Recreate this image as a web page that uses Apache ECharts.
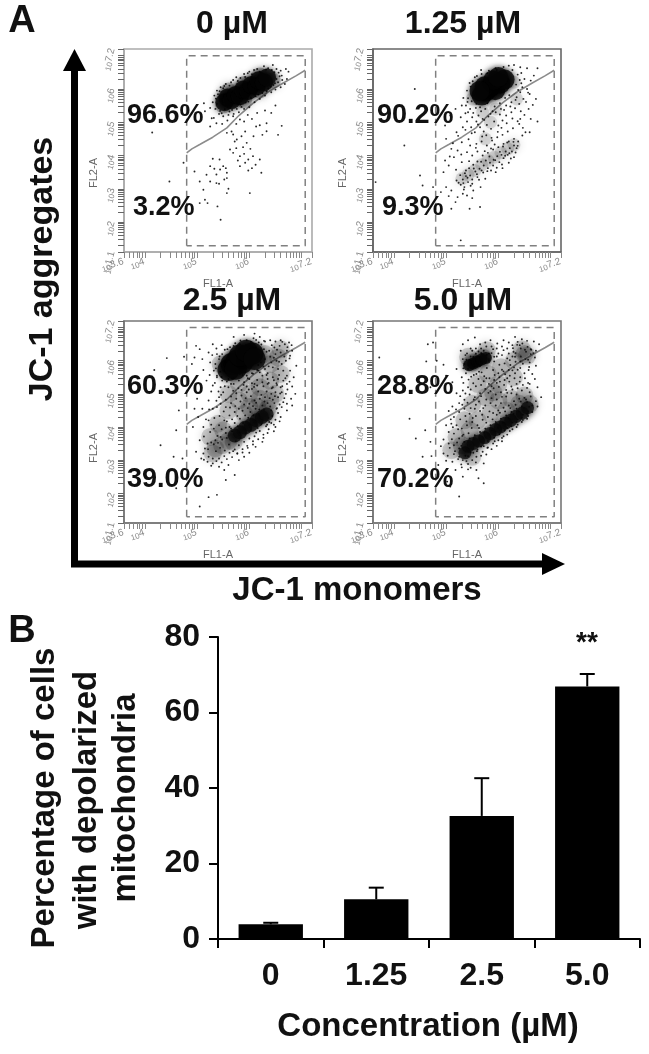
<!DOCTYPE html>
<html><head><meta charset="utf-8">
<style>html,body{margin:0;padding:0;background:#fff}#c{width:649px;height:1054px;filter:blur(.4px)}</style>
<script src="https://cdn.jsdelivr.net/npm/echarts@6/dist/echarts.min.js"></script>
</head><body><div id="c"></div>
<script>
// ---------- Panel B values ----------
const concentrations = ['0','1.25','2.5','5.0'];
const depolarized = [3.9,10.5,32.6,66.9];
const errorTops = [4.3,13.6,42.6,70.2];
// ---------- Panel A labels ----------
const panelTitles = ['0 µM','1.25 µM','2.5 µM','5.0 µM'];
const upperPercents = ['96.6%','90.2%','60.3%','28.8%'];
const lowerPercents = ['3.2%','9.3%','39.0%','70.2%'];
const xDecadeLabels = [3.6,4,5,6,7.2];
const yDecadeLabels = [1.1,2,3,4,5,6,7.2];
// gates, in log10(FL1), log10(FL2)
const gateBox = [4.8,1.29, 4.8,7.0, 7.07,7.0, 7.07,1.29, 4.8,1.29];
const gateDiagonal = [4.8,4.08, 4.9,4.2, 5.05,4.33, 5.3,4.55, 5.57,4.83, 5.8,5.2, 6.08,5.58, 6.35,5.9, 6.65,6.18, 6.9,6.4, 7.07,6.56];
// event clouds, flat x,y lists in log10 units
const dense0 = [5.52,5.6, 5.58,5.74, 5.66,5.66, 5.74,5.82, 5.82,5.78, 5.88,5.98, 5.98,5.94, 6.04,6.12, 6.14,6.08, 6.18,6.26, 6.28,6.2, 6.34,6.34];
const haze0 = [5.5,5.5, 5.6,5.95, 5.9,6.15, 6.2,6.4, 6.45,6.25, 6.2,5.95, 5.9,5.65];
const dots0 = [5.25,5.43,5.15,5.33,5.32,5.13,5.13,5.57,5.25,4.87,5.37,4.97,5.28,5.12,5.69,5.18,5.82,5.08,5.97,5.22,6.2,4.91,6.33,4.97,6.62,4.89,6.55,4.62,6.33,4.73,6.13,4.87,5.57,4.68,5.69,4.63,5.76,4.48,5.85,4.58,5.95,4.38,5.63,4.18,5.82,3.98,5.98,3.88,6.07,3.98,5.92,3.78,5.82,3.68,6.2,3.88,6.23,3.48,5.69,4.08,5.43,3.88,5.25,3.68,5.5,3.68,5.37,3.43,5.57,3.48,5.25,3.22,5.37,3.17,5.57,3.32,5.05,3.22,4.95,3.52,5.12,2.97,5.57,2.87,5.15,2.67,5.05,2.57,5.2,2.57,5.39,2.47,5.45,2.07,6.01,2.87,4.74,3.78,4.47,3.22,4.14,4.69,
5.72,4.42,5.88,4.25,6.02,4.2,5.78,3.85,5.9,4.05,6.05,3.62,5.98,3.55,6.12,3.72,5.75,4.22,5.66,4.72,5.92,4.72,6.08,4.58,6.25,4.62,5.44,3.58,5.52,3.28,5.33,3.6,5.42,3.15,5.6,3.0,5.55,3.62,5.3,3.9,5.18,3.42,5.48,4.95,5.58,5.05,5.75,4.95,5.9,5.02,6.05,5.1,6.15,5.28,6.3,5.35,6.42,5.28,6.5,5.5,
6.45,6.72,6.52,6.6,6.6,6.55,6.7,6.6,6.75,6.52,6.62,6.4,6.72,6.3,6.68,6.15,6.55,6.2,6.6,6.05,6.5,5.98,6.42,5.9,6.3,5.8,6.2,5.7,6.1,5.6,6,5.45,5.9,5.4,5.8,5.3,5.7,5.25,5.6,5.22,5.5,5.18,5.42,5.25,5.35,5.4,5.3,5.6,5.33,5.8,5.38,5.95,5.45,6.05,5.55,6.15,5.65,6.2,5.75,6.35,5.9,6.45,6.0,6.52,6.15,6.6,6.28,6.68,6.36,6.62,6.48,6.5,6.58,6.38,6.52,6.3,6.46,6.12,6.36,6.02,6.25,5.88,6.12,5.78,5.98,5.62,5.85,5.46,5.76,5.4,5.62,5.32,5.44,5.34,5.38,5.55,5.4,5.84,5.5,6.02,5.62,6.1,5.78,6.24,5.92,6.36,6.05,6.44,6.2,6.52,6.32,6.58,
5.47,5.27,5.53,5.39,5.67,5.37,5.83,5.53,5.93,5.59,6.03,5.73,6.17,5.83,6.33,5.93,6.41,6.07,6.49,6.17,5.36,5.71,5.43,5.93,5.52,6.09,5.69,6.27,5.83,6.33,5.97,6.47,6.09,6.57,6.23,6.47,6.43,6.57,6.56,6.49,6.63,6.27];
const dense1 = [5.68,5.8, 5.76,5.92, 5.84,6.04, 5.94,5.96, 6.04,6.16, 6.12,6.28, 5.74,6.08, 5.9,6.26, 5.64,5.94, 6.0,6.36];
const haze1 = [5.3,3.3, 5.42,3.42, 5.55,3.55, 5.68,3.72, 5.8,3.85, 5.92,3.95, 6.05,4.08, 6.18,4.2, 6.3,4.32, 5.75,4.5, 5.85,5.0, 5.7,5.3, 5.95,5.4, 6.3,6.2, 6.35,5.7, 5.5,5.7];
const dots1 = [4.4,6.0,4.2,4.3,4.5,3.4,3.65,3.2,4.55,3.1,5.1,2.4,5.45,2.4,5.65,2.45,4.75,3.05,5.28,1.45,5.18,2.6,5.05,2.78,4.9,2.9,5.0,3.05,5.1,2.95,5.22,2.75,5.32,2.85,5.4,2.8,5.5,2.72,5.52,2.95,5.35,3.05,4.95,3.5,4.98,3.85,5.05,3.7,5.15,3.95,5.1,4.2,5.0,4.5,4.98,4.9,5.08,5.2,5.18,5.4,5.3,5.5,5.28,5.15,5.32,4.85,5.4,5.02,5.2,4.7,5.3,4.4,5.22,4.15,5.3,3.8,5.4,4.1,5.38,3.55,5.2,3.25,5.24,3.18,5.28,3.12,5.32,3.28,5.38,3.38,5.42,3.2,5.46,3.4,5.5,3.28,5.56,3.52,5.6,3.35,5.64,3.6,5.44,3.62,5.52,3.72,5.6,3.82,5.68,3.55,5.72,3.7,5.76,3.85,5.8,3.62,5.84,3.78,5.9,3.7,5.94,3.86,5.98,3.98,6.02,3.8,6.06,4.02,6.1,3.92,6.14,4.12,6.18,4.02,6.22,4.22,6.26,4.12,6.3,4.3,6.35,4.22,6.38,4.42,6.3,4.5,6.2,4.42,6.1,4.35,6.0,4.25,5.9,4.18,5.8,4.08,5.7,4.0,5.6,4.12,5.5,4.0,5.46,4.3,5.58,4.35,5.68,4.42,5.78,4.3,5.88,4.45,5.98,4.55,6.08,4.62,6.18,4.72,6.28,4.82,6.4,4.95,6.52,4.7,6.6,4.7,6.46,4.6,6.42,5.1,6.5,5.22,6.62,5.1,6.75,5.02,6.58,5.4,6.66,5.52,6.72,5.7,6.6,5.85,6.55,6.0,6.62,6.25,6.68,6.4,6.75,6.62,6.55,6.62,6.42,6.65,6.3,6.72,6.2,6.7,6.1,6.66,5.95,6.62,5.82,6.55,5.68,6.45,5.55,6.35,5.45,6.18,5.4,5.95,5.42,5.72,5.38,5.5,5.46,5.4,5.52,5.28,5.62,5.2,5.7,5.1,5.58,5.02,5.48,4.85,5.55,4.7,5.65,4.85,5.72,4.72,5.78,4.92,5.86,4.8,5.92,5.02,6.0,4.9,6.08,5.05,6.15,5.2,6.25,5.3,6.32,5.42,6.4,5.55,6.48,5.7,6.42,5.9,6.35,5.75,6.25,5.6,6.15,5.5,6.05,5.4,5.95,5.3,5.85,5.25,5.75,5.4,5.65,5.45,5.58,5.55,5.5,5.15,5.42,5.3,6.46,6.05,6.5,6.3,6.44,6.48,5.75,3.3,5.86,3.55,5.66,3.05,5.5,3.15,5.34,2.98,5.95,3.5,6.08,3.62,6.2,3.78,6.3,3.95,
5.27,3.41,5.33,3.17,5.41,3.33,5.47,3.09,5.36,3.47,5.53,3.61,5.44,3.83,5.59,3.44,5.63,3.27,5.67,3.81,5.71,3.49,5.74,4.13,5.79,3.53,5.83,3.97,5.86,4.21,5.91,3.87,5.93,4.33,5.97,3.63,6.03,4.11,6.07,3.73,6.09,4.27,6.13,3.99,6.17,4.39,6.21,4.07,6.24,3.91,6.29,4.41,6.33,4.09,6.37,4.29,5.19,3.57,5.13,4.37,5.07,3.97,5.23,4.59,5.29,4.03,5.37,4.77,5.43,4.49,5.49,4.67,5.57,4.23,5.61,4.93,5.69,4.57,5.73,5.07,5.77,4.61,5.81,5.17,5.87,4.53,5.89,5.33,5.99,4.71,6.03,5.23,6.06,4.83,6.11,5.37,6.16,4.97,6.23,5.47,6.27,5.11,6.33,5.67,6.37,5.03,6.43,5.33,6.47,4.83,6.53,5.61,6.57,5.89,6.44,6.17,6.38,5.97,5.49,5.63,5.53,5.81,5.37,5.27,5.33,5.73,5.41,5.61,5.47,6.07,5.51,6.23,5.59,6.39,5.67,6.57,5.79,6.47,5.97,6.57,6.13,6.51,6.27,6.57,6.37,6.43,6.41,6.27,6.34,6.13,6.21,5.81,6.13,5.73,6.03,5.57,5.93,5.47,5.79,5.57,5.67,5.33,5.57,5.43];
const dense2 = [5.6,5.72, 5.66,5.9, 5.76,6.0, 5.86,5.94, 5.96,6.14, 6.06,6.22, 5.74,5.76, 5.82,6.16, 5.94,6.3, 6.1,6.05];
const dense2low = [5.72,3.74, 5.82,3.84, 5.92,3.98, 6.03,4.06, 6.14,4.2, 6.24,4.3, 6.33,4.38];
const haze2 = [5.4,4.1, 5.6,4.5, 5.8,4.8, 6.0,5.0, 6.2,5.2, 6.4,5.4, 5.9,4.4, 6.15,4.6, 6.4,4.8, 6.6,5.6, 6.4,5.9, 6.55,6.1, 6.3,6.2, 5.8,5.3, 5.6,5.0, 5.25,3.7, 5.5,3.9, 6.1,5.5, 5.35,3.35, 5.48,3.45, 5.6,3.58, 5.7,3.55, 6.0,4.6, 6.2,4.85, 5.45,5.9, 6.5,5.0, 6.6,6.35, 6.35,4.55, 5.3,3.2];
const dots2 = [4.18,5.72,4.42,6.08,4.75,6.12,4.3,3.45,4.65,4.5,4.6,3.9,4.55,3.1,4.72,3.05,4.6,2.15,5.22,1.88,5.38,1.95,5.55,2.4,5.05,1.6,4.82,5.4,4.9,5.9,4.95,6.1,4.98,6.45,5.05,6.35,5.1,6.05,5.12,5.72,5.22,6.25,5.3,6.5,5.38,6.2,5.25,5.95,5.18,5.4,5.08,5.2,5.0,4.85,4.95,4.55,5.1,4.55,5.22,4.8,5.3,5.25,5.38,5.5,5.45,5.2,5.42,4.9,5.3,4.55,5.22,4.2,5.12,4.0,5.02,4.3,4.92,4.0,5.05,3.6,5.15,3.35,4.98,3.25,5.08,3.05,5.2,2.95,5.3,2.9,5.42,2.8,5.52,2.7,5.6,2.85,5.72,2.55,5.8,3.0,5.9,3.1,6.0,3.22,6.12,3.4,6.25,3.55,6.35,3.82,6.5,4.0,6.6,4.3,6.72,4.5,6.62,4.6,6.8,4.85,6.7,5.0,6.82,5.22,6.72,5.3,6.6,5.2,6.5,5.05,6.42,5.0,6.3,4.9,6.2,4.85,6.1,4.8,6.0,4.7,5.9,4.68,5.8,4.55,5.72,4.45,5.62,4.35,5.52,4.2,5.42,4.05,5.32,3.95,5.25,3.85,5.35,3.6,5.45,3.7,5.55,3.82,5.62,4.0,5.72,4.12,5.82,4.25,5.92,4.35,6.02,4.45,6.12,4.55,6.25,4.65,6.35,4.72,6.45,4.82,6.55,4.9,6.65,4.75,6.52,4.55,6.42,4.5,6.4,4.62,6.28,4.52,6.18,4.4,6.08,4.35,5.98,4.28,5.88,4.12,5.78,4.02,5.65,3.95,5.55,3.98,5.48,3.62,5.4,3.52,5.32,3.48,5.2,3.5,5.22,3.1,5.12,3.2,5.3,3.05,5.42,3.05,5.52,3.12,5.62,3.22,5.72,3.32,5.8,3.45,5.9,3.55,6.0,3.65,6.1,3.72,6.2,3.88,6.32,4.02,6.42,4.12,6.5,4.22,6.55,4.42,6.38,4.15,5.55,4.6,5.65,4.72,5.75,4.85,5.85,4.95,5.95,5.05,6.05,5.15,6.15,5.25,6.25,5.35,6.35,5.45,6.45,5.5,6.55,5.45,6.65,5.4,6.72,5.55,6.78,5.7,6.65,5.7,6.55,5.75,6.45,5.8,6.35,5.62,6.25,5.55,6.15,5.42,6.05,5.32,5.95,5.22,5.85,5.12,5.75,5.02,5.65,4.92,5.55,4.82,5.45,4.7,5.38,4.6,5.5,5.05,5.6,5.2,5.7,5.3,5.8,5.4,5.9,5.35,6.0,5.45,6.1,5.3,6.2,5.65,6.3,5.75,6.42,5.95,6.52,6.0,6.62,5.9,6.7,6.0,6.78,6.15,6.82,6.3,6.72,6.3,6.6,6.25,6.5,6.2,6.4,6.12,6.3,6.05,6.22,5.95,6.28,6.35,6.38,6.3,6.48,6.4,6.58,6.45,6.68,6.5,6.76,6.55,6.6,6.62,6.5,6.58,6.4,6.62,6.28,6.6,6.18,6.55,6.12,6.4,6.2,6.72,6.08,6.68,5.95,6.62,5.82,6.5,5.7,6.45,5.58,6.35,5.48,6.2,5.42,6.05,5.35,5.9,5.32,5.7,5.38,5.55,5.48,5.4,5.6,5.45,5.7,5.48,5.82,5.6,5.95,5.55,6.05,5.62,6.15,5.72,5.65,5.3,6.35,5.3,6.45,5.2,6.52,5.32,6.62,5.05,6.72,4.7,6.58,4.68,6.48,4.72,6.82,4.65,6.88,5.0,6.85,5.5,6.9,5.85,6.3,6.58,5.7,6.72,5.9,6.78,6.1,6.82,
5.13,3.71,5.21,3.33,5.27,3.53,5.36,3.27,5.39,3.73,5.44,3.37,5.47,3.93,5.53,3.29,5.57,3.67,5.61,3.47,5.67,3.87,5.69,3.27,5.74,3.57,5.77,3.19,5.83,3.67,5.87,3.33,5.93,3.81,5.96,3.43,6.03,3.91,6.07,3.57,6.13,3.83,6.16,3.97,6.23,4.09,6.27,3.77,6.34,4.07,6.37,4.27,6.44,4.33,6.47,4.07,6.53,4.57,6.58,4.17,5.17,4.23,5.23,4.53,5.27,4.07,5.33,4.27,5.37,4.79,5.43,4.33,5.46,4.97,5.51,4.47,5.53,5.23,5.57,4.17,5.63,4.59,5.67,4.23,5.69,5.09,5.73,4.63,5.77,4.33,5.79,5.17,5.83,4.77,5.87,4.49,5.89,5.27,5.93,4.87,5.97,4.57,5.99,5.13,6.03,4.93,6.07,4.63,6.09,5.21,6.13,4.73,6.17,5.07,6.19,4.53,6.23,4.97,6.27,5.23,6.29,4.77,6.33,5.07,6.37,5.33,6.39,4.87,6.43,5.17,6.47,5.41,6.49,4.93,6.53,5.27,6.57,5.57,6.59,5.01,6.63,5.23,6.67,4.87,6.69,5.47,6.73,5.13,6.77,5.37,6.33,5.57,6.17,5.71,6.07,5.61,5.97,5.47,5.87,5.57,5.77,5.61,5.67,5.47,5.57,5.37,5.47,5.51,5.41,5.07,5.34,5.33,5.27,5.07,5.24,5.57,5.36,5.77,5.44,5.67,5.29,6.17,5.37,6.37,5.43,6.13,5.47,6.47,5.53,6.33,5.63,6.41,5.73,6.53,5.83,6.61,5.93,6.47,6.03,6.57,6.13,6.63,6.23,6.49,6.33,6.27,6.43,6.47,6.53,6.33,6.63,6.57,6.73,6.41,6.81,6.47,6.77,6.07,6.67,6.13,6.57,5.97,6.47,6.09,6.37,5.83,6.27,5.83,6.17,5.87,5.13,3.01,5.27,2.83,5.37,2.97,5.47,2.93,5.57,3.03,5.67,3.09,5.77,3.21,5.87,3.23,5.97,3.37,6.07,3.47,6.17,3.63,6.27,3.67,6.37,3.93,6.47,3.87];
const dense3 = [5.44,5.86, 5.52,5.92, 5.6,5.98, 5.68,6.04, 5.76,6.08];
const dense3low = [5.36,3.22, 5.42,3.42, 5.62,3.58, 5.74,3.68, 5.84,3.8, 5.95,3.92, 6.04,4.0, 6.14,4.12, 6.24,4.2, 6.34,4.32, 6.46,4.42, 6.56,4.58, 5.52,3.5];
const haze3 = [5.5,5.95, 5.7,6.1, 5.42,6.12, 5.78,6.32, 6.45,6.35, 6.5,6.2, 6.3,6.0, 6.55,6.15, 6.05,5.8, 5.8,5.6, 5.6,5.3, 6.0,5.3, 6.3,5.5, 5.5,4.7, 5.75,4.9, 6.0,4.8, 6.25,4.85, 6.5,4.95, 5.35,4.2, 5.6,4.2, 5.2,3.7, 5.45,3.9, 5.85,4.4, 6.4,4.7, 5.1,3.3, 5.5,3.1, 6.15,4.5, 5.3,3.45, 5.9,5.05, 6.6,4.7];
const dots3 = [3.72,6.1,4.3,4.25,4.6,3.9,4.42,3.65,4.7,3.55,4.55,3.1,4.72,3.12,4.85,2.85,4.62,5.98,4.7,5.2,5.25,1.9,5.02,2.35,5.08,2.2,5.32,2.5,5.42,2.72,5.58,2.7,5.72,2.3,5.62,2.45,5.72,2.9,4.65,6.5,4.75,6.55,4.82,6.0,4.95,5.88,5.0,5.55,5.12,5.35,5.2,5.75,5.28,6.3,5.32,6.5,5.42,6.62,5.55,6.7,5.65,6.5,5.75,6.55,5.85,6.62,5.98,6.52,6.1,6.62,6.2,6.55,6.32,6.72,6.45,6.65,6.55,6.6,6.68,6.58,6.78,6.5,6.72,6.3,6.62,6.35,6.7,6.1,6.6,5.95,6.72,5.85,6.65,5.6,6.58,5.72,6.7,5.45,6.6,5.3,6.75,5.2,6.82,4.9,6.72,4.78,6.62,4.92,6.75,4.62,6.65,4.45,6.55,4.25,6.45,4.15,6.35,4.0,6.22,3.88,6.1,3.72,6.0,3.6,5.9,3.5,5.8,3.38,5.7,3.25,5.58,3.1,5.5,3.0,5.42,2.88,5.3,2.78,5.18,2.7,5.12,2.95,5.0,2.98,4.95,3.2,4.9,3.42,4.95,3.62,5.05,3.5,5.15,3.45,5.25,3.35,5.15,3.18,5.25,3.1,5.32,3.0,5.42,3.12,5.52,3.22,5.6,3.32,5.72,3.42,5.8,3.58,5.92,3.68,6.02,3.78,6.12,3.9,6.25,4.02,6.35,4.15,6.45,4.28,6.55,4.4,6.65,4.65,6.55,4.75,6.45,4.62,6.35,4.55,6.25,4.45,6.15,4.35,6.05,4.25,5.95,4.15,5.85,4.05,5.75,3.95,5.65,3.85,5.55,3.75,5.45,3.65,5.35,3.55,5.25,3.65,5.15,3.8,5.05,3.85,5.0,4.05,5.1,4.1,5.2,4.05,5.3,3.95,5.4,4.05,5.5,4.15,5.6,4.05,5.7,4.22,5.8,4.3,5.9,4.42,6.0,4.5,6.1,4.58,6.2,4.65,6.3,4.78,6.4,4.85,6.5,4.88,6.6,5.05,5.15,4.3,5.25,4.45,5.35,4.55,5.45,4.4,5.55,4.55,5.65,4.48,5.75,4.65,5.85,4.72,5.95,4.65,6.05,4.72,6.15,4.92,6.25,5.02,6.35,4.98,6.45,5.1,6.55,5.18,6.35,5.3,6.25,5.22,6.15,5.12,6.05,5.05,5.95,4.98,5.85,5.08,5.75,5.15,5.65,5.02,5.55,4.9,5.45,4.98,5.35,4.82,5.25,4.72,5.12,4.62,5.05,4.48,5.2,5.02,5.32,5.1,5.42,5.2,5.52,5.32,5.62,5.45,5.72,5.38,5.82,5.3,5.92,5.42,6.02,5.5,6.12,5.42,6.22,5.55,6.32,5.62,6.42,5.5,6.5,5.62,6.42,5.78,6.3,5.8,6.2,5.72,6.1,5.68,6.0,5.62,5.9,5.72,5.78,5.78,5.68,5.65,5.58,5.6,5.48,5.52,5.38,5.62,5.3,5.5,5.42,5.75,5.35,5.9,5.32,6.05,5.4,6.22,5.5,6.3,5.62,6.28,5.72,6.3,5.82,6.22,5.9,6.35,6.0,6.22,6.1,6.32,6.2,6.22,6.28,6.38,6.36,6.48,6.46,6.52,6.56,6.42,6.62,6.2,6.52,6.05,6.42,5.98,6.32,6.12,6.22,6.02,6.12,5.92,6.02,5.88,5.92,5.98,5.82,6.05,5.62,6.12,5.52,6.12,5.45,6.02,5.55,5.82,5.65,5.85,5.82,6.0,5.92,6.12,5.78,6.18,5.68,6.22,
5.11,3.63,5.17,3.27,5.23,3.93,5.29,3.43,5.33,3.77,5.37,3.13,5.39,4.17,5.43,3.81,5.47,3.23,5.49,3.97,5.53,3.63,5.57,4.33,5.59,3.27,5.63,3.97,5.67,3.41,5.69,4.37,5.73,3.83,5.77,4.13,5.79,3.37,5.83,4.47,5.87,3.89,5.89,4.23,5.93,3.57,5.97,4.37,5.99,3.97,6.03,4.43,6.07,3.67,6.09,4.13,6.13,4.47,6.17,3.97,6.19,4.27,6.23,4.57,6.27,4.13,6.29,4.39,6.33,4.67,6.37,4.23,6.39,4.47,6.43,4.77,6.47,4.37,6.49,4.57,6.53,4.83,6.57,4.47,6.59,4.61,5.09,4.23,5.13,3.99,5.19,4.53,5.27,4.23,5.31,4.67,5.37,4.33,5.41,4.73,5.47,4.57,5.51,4.27,5.53,4.83,5.57,4.67,5.63,4.77,5.67,4.93,5.71,4.57,5.77,4.83,5.81,5.03,5.87,4.87,5.91,5.17,5.97,4.83,6.01,5.21,6.07,4.91,6.11,5.27,6.17,5.03,6.21,5.37,6.27,5.13,6.31,5.47,6.37,5.17,6.41,5.37,6.47,5.27,6.51,5.47,6.57,5.33,5.27,4.93,5.33,5.33,5.37,5.01,5.43,5.43,5.47,5.13,5.53,5.57,5.57,5.23,5.63,5.67,5.67,5.27,5.73,5.53,5.77,5.47,5.83,5.47,5.87,5.23,5.93,5.57,5.97,5.33,6.03,5.37,6.07,5.73,6.13,5.59,6.17,5.47,6.23,5.87,6.27,5.71,6.33,5.97,6.37,5.73,6.43,6.13,6.47,5.91,6.53,6.27,6.57,6.03,6.63,6.33,6.67,6.23,6.59,5.81,6.43,6.37,6.33,6.23,6.27,6.13,6.17,6.07,6.07,6.17,5.97,6.13,5.87,6.23,5.77,6.17,5.67,6.23,5.57,6.21,5.47,6.13,5.39,6.03,5.33,5.77,5.43,5.87,5.37,6.17,5.47,6.37,5.57,6.37,5.67,6.37,5.77,6.43,5.87,6.43,5.97,6.37,6.07,6.43,6.17,6.37,6.27,6.47,6.37,6.57,6.51,6.33,6.41,6.47,6.29,6.27,5.31,3.73,5.21,3.53,5.07,3.37,5.03,3.13,5.23,3.03,5.29,2.87,5.39,2.97,5.47,2.77,5.57,2.93,5.67,3.13,5.77,3.17,5.87,3.33,5.97,3.43,6.07,3.57,6.17,3.77,6.27,3.93,6.37,4.07,6.47,4.21,6.57,4.33];
const dataPanels = [
 {dense:dense0,low:[],haze:haze0,dots:dots0},
 {dense:dense1,low:[],haze:haze1,dots:dots1},
 {dense:dense2,low:dense2low,haze:haze2,dots:dots2},
 {dense:dense3,low:dense3low,haze:haze3,dots:dots3}];

// ---------- layout ----------
const FONT = '"Liberation Sans",Arial,sans-serif';
const frames = [[124,49,188,203,'#aaaaaa'],[373,49,188,203,'#666666'],[124,321,188,202,'#777777'],[373,321,188,202,'#777777']];
const denseSize = [18,20,22,12], lowSize = [0,0,14,13], hazeSize = [16,13,18,18], hazeAlpha=[.22,.12,.16,.16];
const titleCentres = [[232,24],[463,24],[232,301],[463,301]];
const upperPos = [[127,116],[377,116],[127,387],[377,387]];
const lowerPos = [[133,208],[382,208],[127,480],[377,480]];
const yNamePos = [[94,173],[343,173],[94,448],[343,448]];

const pairs = a => { const o=[]; for(let i=0;i<a.length;i+=2) o.push([a[i],a[i+1]]); return o; };
const fmtLog = v => '{b|10}{s|'+v+'}';
const richLog = {b:{fontSize:8,color:'#8a8a8a',fontFamily:FONT},s:{fontSize:10,color:'#8a8a8a',fontFamily:FONT,padding:[0,0,4,0]}};
const decadeOffsets = [0,.3,.48,.6,.7,.78,.85,.9,.95];
function logTicks(lo,hi){const t=[lo,hi];for(let d=Math.floor(lo);d<=Math.ceil(hi);d++)decadeOffsets.forEach(o=>{const v=d+o;if(v>lo&&v<hi)t.push(v);});return t;}
const xTickVals = logTicks(3.6,7.2), yTickVals = logTicks(1.1,7.2);

const grid=[],xAxis=[],yAxis=[],series=[],graphic=[];
frames.forEach((f,i)=>{
  grid.push({left:f[0],top:f[1],width:f[2],height:f[3],show:true,borderColor:f[4],borderWidth:1.6,backgroundColor:'#fff'});
  xAxis.push({gridIndex:i,type:'value',min:3.6,max:7.2,name:'FL1-A',nameLocation:'middle',nameGap:26,
    nameTextStyle:{fontSize:11,color:'#666',fontFamily:FONT},splitLine:{show:false},
    axisLine:{lineStyle:{color:f[4],width:1.5}},
    axisTick:{show:true,length:6,customValues:xTickVals,lineStyle:{color:'#888',width:1}},
    axisLabel:{show:true,customValues:xDecadeLabels,formatter:fmtLog,rich:richLog,rotate:18,margin:11,color:'#8a8a8a',hideOverlap:false}});
  yAxis.push({gridIndex:i,type:'value',min:1.1,max:7.2,splitLine:{show:false},
    axisLine:{lineStyle:{color:f[4],width:1.5}},
    axisTick:{show:true,length:6,customValues:yTickVals,lineStyle:{color:'#666',width:1}},
    axisLabel:{show:true,customValues:yDecadeLabels,formatter:fmtLog,rich:richLog,rotate:75,margin:10,color:'#8a8a8a',hideOverlap:false}});
  const d=dataPanels[i], base={xAxisIndex:i,yAxisIndex:i,silent:true,animation:false};
  series.push({...base,type:'line',data:pairs(gateBox),showSymbol:false,symbol:'none',z:1,lineStyle:{color:'#808080',width:1.5,type:[7,5]}});
  series.push({...base,type:'line',data:pairs(gateDiagonal),showSymbol:false,symbol:'none',z:1,lineStyle:{color:'#8c8c8c',width:1.6}});
  if(d.haze.length) series.push({...base,type:'scatter',data:pairs(d.haze),symbolSize:hazeSize[i],z:2,itemStyle:{color:'#000',opacity:hazeAlpha[i],shadowBlur:9,shadowColor:'#000'}});
  series.push({...base,type:'scatter',data:pairs(d.dots),symbolSize:1.9,z:3,itemStyle:{color:'#111',opacity:.9}});
  series.push({...base,type:'scatter',data:pairs(d.dense),symbolSize:denseSize[i],z:4,itemStyle:{color:'#050505',shadowBlur:6,shadowColor:'rgba(0,0,0,.9)'}});
  if(d.low.length) series.push({...base,type:'scatter',data:pairs(d.low),symbolSize:lowSize[i],z:4,itemStyle:{color:'#0a0a0a',opacity:.75,shadowBlur:7,shadowColor:'#000'}});
  const txt=(t,x,y,size,extra)=>graphic.push({type:'text',z:20,x,y,rotation:extra&&extra.rot||0,style:{text:t,fontFamily:FONT,fontWeight:extra&&extra.w||'bold',fontSize:size,fill:extra&&extra.c||'#111',align:extra&&extra.a||'center',verticalAlign:'middle'}});
  txt(panelTitles[i],titleCentres[i][0],titleCentres[i][1],32);
  txt(upperPercents[i],upperPos[i][0],upperPos[i][1],27,{a:'left'});
  txt(lowerPercents[i],lowerPos[i][0],lowerPos[i][1],27,{a:'left'});
  txt('FL2-A',yNamePos[i][0],yNamePos[i][1],11,{w:'normal',c:'#666',rot:Math.PI/2});
});
const label=(t,x,y,size,rot)=>graphic.push({type:'text',z:20,x,y,rotation:rot||0,style:{text:t,fontFamily:FONT,fontWeight:'bold',fontSize:size,fill:'#111',align:'center',verticalAlign:'middle'}});
label('A',22,22,38); label('B',22,632,38);
label('JC-1 aggregates',43,269,34,Math.PI/2);
label('JC-1 monomers',357,591,33);
label('Percentage of cells',45,798,33,Math.PI/2);
label('with depolarized',87,800,33,Math.PI/2);
label('mitochondria',126,798,33,Math.PI/2);
label('Concentration (µM)',428,1027,33);
label('**',587,643,28);
// big arrows
graphic.push({type:'polyline',z:15,shape:{points:[[74.5,565],[74.5,68]]},style:{stroke:'#000',lineWidth:7,fill:null}});
graphic.push({type:'polygon',z:15,shape:{points:[[74.5,49],[63,71],[86,71]]},style:{fill:'#000'}});
graphic.push({type:'polyline',z:15,shape:{points:[[71,564],[545,564]]},style:{stroke:'#000',lineWidth:7,fill:null}});
graphic.push({type:'polygon',z:15,shape:{points:[[565,564],[542,553],[542,575]]},style:{fill:'#000'}});

// Panel B
grid.push({left:218,top:637,width:422,height:302});
xAxis.push({gridIndex:4,type:'category',data:concentrations,
  axisLine:{lineStyle:{color:'#000',width:2}},axisTick:{show:true,length:9,lineStyle:{color:'#000',width:2}},
  axisLabel:{fontFamily:FONT,fontWeight:'bold',fontSize:32,color:'#111',margin:21}});
yAxis.push({gridIndex:4,type:'value',min:0,max:80,interval:20,splitLine:{show:false},
  axisLine:{show:true,lineStyle:{color:'#000',width:2}},axisTick:{show:true,length:9,lineStyle:{color:'#000',width:2}},
  axisLabel:{fontFamily:FONT,fontWeight:'bold',fontSize:32,color:'#111',margin:18}});
series.push({type:'custom',xAxisIndex:4,yAxisIndex:4,silent:true,animation:false,z:2,
  data:errorTops.map((v,i)=>[i,v,depolarized[i]]),
  renderItem(p,api){const x=api.value(0),a=api.coord([x,api.value(2)]),b=api.coord([x,api.value(1)]);
    const s={stroke:'#000',lineWidth:2};
    return {type:'group',children:[
      {type:'line',shape:{x1:a[0],y1:a[1],x2:b[0],y2:b[1]},style:s},
      {type:'line',shape:{x1:b[0]-7.5,y1:b[1],x2:b[0]+7.5,y2:b[1]},style:s}]};}});
series.push({type:'bar',xAxisIndex:4,yAxisIndex:4,silent:true,animation:false,z:3,data:depolarized,barWidth:'61%',itemStyle:{color:'#000'}});

const chart=echarts.init(document.getElementById('c'),null,{width:649,height:1054});
chart.setOption({animation:false,backgroundColor:'#fff',grid,xAxis,yAxis,series,graphic:{elements:graphic}});
</script></body></html>
